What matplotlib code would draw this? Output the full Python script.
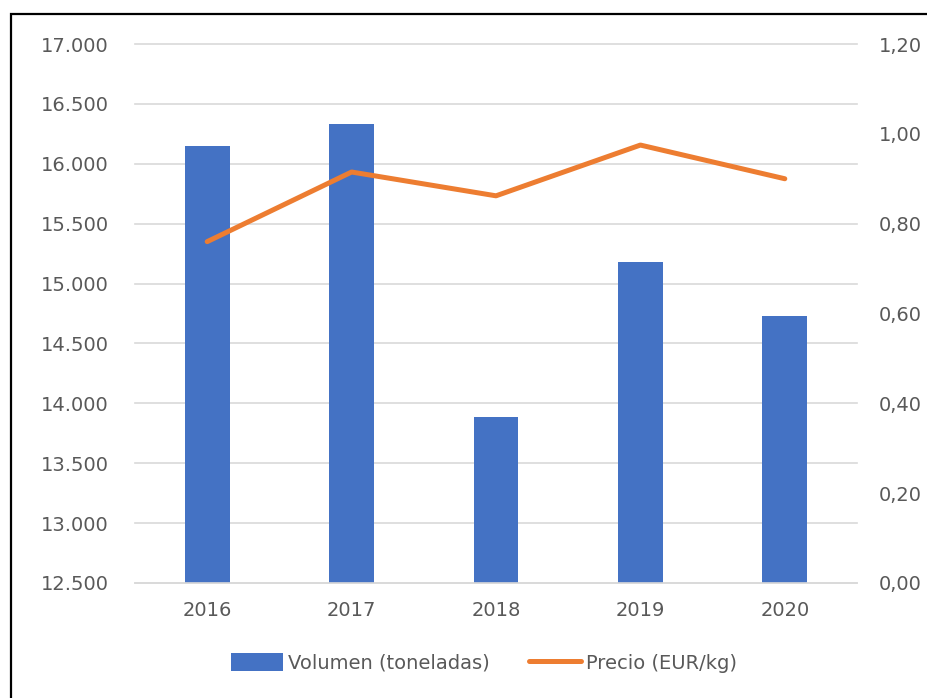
import matplotlib.pyplot as plt
import numpy as np
from matplotlib.patches import Rectangle
from matplotlib.ticker import FuncFormatter

years = ['2016', '2017', '2018', '2019', '2020']
volumen = [16150, 16335, 13885, 15180, 14725]
precio = [0.76, 0.915, 0.862, 0.975, 0.90]

BLUE = '#4472C4'
ORANGE = '#ED7D31'
GRID = '#D9D9D9'
TEXT = '#595959'

plt.rcParams.update({'font.family': 'DejaVu Sans', 'font.size': 14})

fig = plt.figure(figsize=(9.27, 6.98), dpi=100)
ax1 = fig.add_axes([135/927, 115/698, 722/927, 539/698])
ax2 = ax1.twinx()

x = np.arange(len(years))
ax1.bar(x, volumen, width=0.31, color=BLUE, label='Volumen (toneladas)', zorder=2)
ax2.plot(x, precio, color=ORANGE, lw=3.6, solid_capstyle='round',
         label='Precio (EUR/kg)', zorder=3)

ax1.set_xlim(-0.5, len(years) - 0.5)
ax1.set_ylim(12500, 17000)
ax1.set_yticks(np.arange(12500, 17001, 500))
ax1.yaxis.set_major_formatter(FuncFormatter(lambda v, p: f'{v:,.0f}'.replace(',', '.')))
ax2.set_ylim(0, 1.2)
ax2.set_yticks(np.arange(0, 1.21, 0.2))
ax2.yaxis.set_major_formatter(FuncFormatter(lambda v, p: f'{v:.2f}'.replace('.', ',')))

ax1.set_xticks(x)
ax1.set_xticklabels(years)
ax1.grid(axis='y', color=GRID, lw=1.2, zorder=0)
ax1.set_axisbelow(True)
for gl in ax1.get_ygridlines():
    gl.set_clip_on(False)

for ax in (ax1, ax2):
    for s in ax.spines.values():
        s.set_visible(False)
ax1.spines['bottom'].set_visible(True)
ax1.spines['bottom'].set_color(GRID)
ax1.spines['bottom'].set_linewidth(1.2)

ax1.tick_params(axis='y', length=0, pad=19, colors=TEXT)
ax1.tick_params(axis='x', length=0, pad=13, colors=TEXT)
ax2.tick_params(axis='y', length=0, pad=16, colors=TEXT)

h1, l1 = ax1.get_legend_handles_labels()
h2, l2 = ax2.get_legend_handles_labels()
fig.legend(h1 + h2, l1 + l2, loc='center', bbox_to_anchor=(0.522, 1 - 663/698),
           ncol=2, frameon=False, handlelength=2.7, handleheight=1.0,
           columnspacing=2.0, handletextpad=0.25, labelcolor=TEXT, fontsize=14)

# outer frame
fig.patches.append(Rectangle((11/927, -0.05), 1.0, 1 - 14/698 + 0.05,
                             transform=fig.transFigure, fill=False,
                             edgecolor='black', lw=1.6))

fig.savefig('out.png', dpi=100)
